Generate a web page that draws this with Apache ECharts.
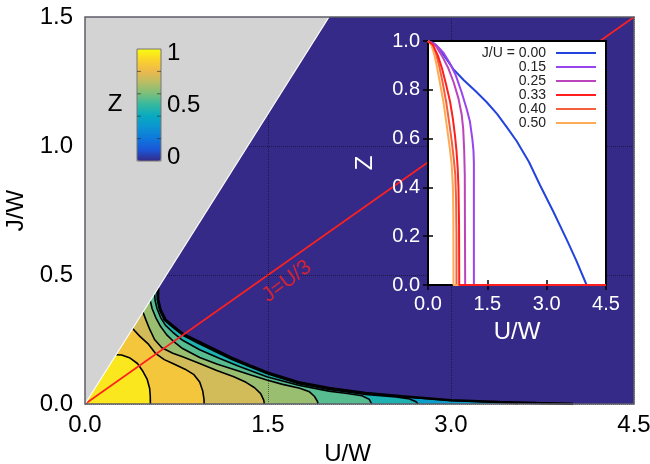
<!DOCTYPE html>
<html><head><meta charset="utf-8">
<script src="https://cdn.jsdelivr.net/npm/echarts@6/dist/echarts.min.js"></script>
<style>html,body{margin:0;padding:0;background:#fff}#c{width:650px;height:464px}</style>
</head><body><div id="c"></div>
<script>
// ---------------- main map (U/W, J/W) ----------------
const xTicks = [0, 1.5, 3.0, 4.5];
const yTicks = [0, 0.5, 1.0, 1.5];
const greyRegion = [[0,0],[2.0,1.5],[0,1.5]];
const greyEdge = [[0,0],[2.0,1.5]];
const ratioLine = [[0,0],[4.5,1.5]];
const ratioLabel = [[1.655,0.475]];
// contour lines of Z, outer -> inner
const boundary = [[0.60,0.45],[0.60,0.405],[0.62,0.365],[0.66,0.327],[0.73,0.30],[0.81,0.27],[0.92,0.245],[1.05,0.215],[1.2,0.18],[1.35,0.15],[1.5,0.122],[1.75,0.085],[2.0,0.062],[2.3,0.043],[2.6,0.03],[3.0,0.015],[3.4,0.008],[3.7,0.004],[3.98,0.001],[4.0,0]];
const c03 = [[0.597,0.448],[0.597,0.405],[0.616,0.365],[0.656,0.326],[0.727,0.299],[0.81,0.267],[0.92,0.241],[1.05,0.211],[1.2,0.176],[1.35,0.147],[1.5,0.119],[1.75,0.082],[2.0,0.059],[2.3,0.04],[2.6,0.028],[3.0,0.013],[3.3,0.008],[3.45,0.005],[3.53,0.002],[3.55,0]];
const c04 = [[0.59,0.4425],[0.592,0.405],[0.61,0.365],[0.65,0.325],[0.72,0.297],[0.81,0.264],[0.92,0.237],[1.05,0.207],[1.2,0.173],[1.35,0.144],[1.5,0.116],[1.75,0.079],[2.0,0.056],[2.3,0.037],[2.55,0.027],[2.65,0.021],[2.71,0.01],[2.73,0]];
const c05 = [[0.57,0.428],[0.575,0.40],[0.59,0.37],[0.62,0.335],[0.66,0.305],[0.72,0.278],[0.80,0.247],[0.94,0.21],[1.1,0.177],[1.25,0.148],[1.49,0.106],[1.75,0.073],[2.0,0.05],[2.15,0.041],[2.27,0.032],[2.33,0.018],[2.35,0]];
const c06 = [[0.535,0.40],[0.55,0.37],[0.58,0.335],[0.62,0.30],[0.67,0.268],[0.72,0.245],[0.80,0.215],[0.94,0.18],[1.08,0.155],[1.22,0.134],[1.36,0.112],[1.49,0.093],[1.62,0.076],[1.76,0.061],[1.84,0.047],[1.88,0.03],[1.905,0.01],[1.91,0]];
const c07 = [[0.475,0.356],[0.50,0.325],[0.53,0.29],[0.57,0.25],[0.63,0.218],[0.72,0.197],[0.80,0.183],[0.94,0.157],[1.08,0.13],[1.22,0.106],[1.32,0.084],[1.39,0.063],[1.44,0.04],[1.465,0.015],[1.47,0]];
const c08 = [[0.39,0.2925],[0.45,0.262],[0.52,0.232],[0.58,0.195],[0.65,0.172],[0.72,0.157],[0.82,0.135],[0.89,0.115],[0.94,0.085],[0.965,0.05],[0.975,0.02],[0.977,0]];
const c09 = [[0.255,0.191],[0.30,0.19],[0.37,0.178],[0.43,0.157],[0.47,0.13],[0.51,0.095],[0.53,0.06],[0.535,0.03],[0.536,0]];
const bandPolys = [boundary, c03, c04, c05, c06, c07, c08, c09];
const bandZ = [0.22, 0.35, 0.45, 0.55, 0.65, 0.75, 0.85, 0.95];
const colorbarLabels = ['0', '0.5', '1'];
const colorbarTicks = [0.2, 0.4, 0.6, 0.8];
// ---------------- inset Z(U) for fixed J/U ----------------
const insetNames = ['J/U = 0.00', '0.15', '0.25', '0.33', '0.40', '0.50'];
const insetColors = ['#2244dd', '#9944ee', '#bb44bb', '#ff1f1f', '#f5603c', '#ffaa55'];
const z000 = [[0,1],[0.15,0.99],[0.3,0.965],[0.45,0.93],[0.64,0.885],[0.9,0.84],[1.2,0.795],[1.48,0.75],[1.75,0.70],[2.0,0.645],[2.24,0.59],[2.55,0.505],[2.83,0.41],[3.17,0.30],[3.51,0.185],[3.75,0.1],[4.01,0],[4.5,0]];
const z015 = [[0,1],[0.2,0.985],[0.4,0.95],[0.55,0.91],[0.7,0.86],[0.85,0.79],[0.98,0.72],[1.06,0.67],[1.12,0.6],[1.15,0.55],[1.16,0.5],[1.16,0],[4.5,0]];
const z025 = [[0,1],[0.2,0.98],[0.35,0.94],[0.51,0.89],[0.65,0.83],[0.77,0.765],[0.85,0.70],[0.89,0.64],[0.915,0.55],[0.93,0.45],[0.935,0.2],[0.94,0],[4.5,0]];
const z033 = [[0,1],[0.12,0.985],[0.25,0.94],[0.35,0.89],[0.46,0.82],[0.56,0.75],[0.63,0.68],[0.68,0.615],[0.72,0.55],[0.75,0.48],[0.77,0.4],[0.785,0.25],[0.79,0],[4.5,0]];
const z040 = [[0,1],[0.1,0.985],[0.2,0.95],[0.28,0.9],[0.37,0.83],[0.46,0.75],[0.54,0.66],[0.6,0.59],[0.65,0.52],[0.69,0.45],[0.71,0.35],[0.72,0.2],[0.72,0],[4.5,0]];
const z050 = [[0,1],[0.08,0.985],[0.15,0.95],[0.22,0.9],[0.3,0.83],[0.39,0.75],[0.46,0.67],[0.51,0.61],[0.56,0.55],[0.6,0.49],[0.63,0.4],[0.64,0.3],[0.645,0],[4.5,0]];
const insetData = [z000, z015, z025, z033, z040, z050];

const parula = ['#352a87','#1b56d7','#0e77db','#0c93d2','#07aac1','#33b8a1','#7abf7c','#b8bd64','#ecb94d','#fad22b','#f9fb0e'];
const FONT = 'Liberation Sans, Arial, Helvetica, sans-serif';
const fmt1 = v => v.toFixed(1);

const chart = echarts.init(document.getElementById('c'), null, {renderer:'canvas'});

const series = [];
series.push({type:'custom', name:'grey', xAxisIndex:0, yAxisIndex:0, z:4, silent:true,
  data:[[0,0]],
  renderItem:(p, api) => ({type:'polygon', shape:{points: greyRegion.map(q => api.coord(q))}, style:{fill:'#d3d3d3'}})
});
series.push({type:'custom', name:'Z', xAxisIndex:0, yAxisIndex:0, z:2, silent:true,
  data: bandPolys.map((_, i) => [i, bandZ[i]]),
  renderItem:(p, api) => {
    const poly = bandPolys[p.dataIndex];
    const pts = [api.coord([0,0])].concat(poly.map(q => api.coord(q)));
    return {type:'polygon', shape:{points:pts}, style:{fill: api.visual('color')}};
  }
});
[c09, c08, c07, c06, c05, c04, c03, boundary].forEach((c, i) => {
  series.push({type:'line', name:'contour'+i, xAxisIndex:0, yAxisIndex:0, z:2, silent:true,
    data:c, symbol:'none', lineStyle:{color:'#000', width: i === 7 ? 2.4 : 1.6}, itemStyle:{color:'#000'}});
});
series.push({type:'line', name:'edge', xAxisIndex:0, yAxisIndex:0, z:4, silent:true,
  data:greyEdge, symbol:'none', lineStyle:{color:'#fff', width:1.2}});
series.push({type:'line', name:'ratio', xAxisIndex:0, yAxisIndex:0, z:2, silent:true,
  data:ratioLine, symbol:'none', lineStyle:{color:'#ff2020', width:1.6}});
series.push({type:'scatter', name:'ratioLabel', xAxisIndex:0, yAxisIndex:0, z:3, silent:true,
  data:ratioLabel, symbolSize:1, itemStyle:{color:'rgba(0,0,0,0)'},
  label:{show:true, position:'inside', formatter:'J=U/3', rotate:37, color:'#ff2020', fontSize:21, fontFamily:FONT}});
insetData.forEach((d, i) => {
  series.push({type:'line', name:insetNames[i], xAxisIndex:1, yAxisIndex:1, z: i===3 ? 13 : 12,
    data:d, symbol:'none', color:insetColors[i],
    lineStyle:{color:insetColors[i], width:2}, itemStyle:{color:insetColors[i]}});
});

const option = {
  animation:false,
  textStyle:{fontFamily:FONT},
  grid:[
    {left:85, top:17, right:16, bottom:60, show:true, backgroundColor:'#352a87', borderWidth:0, z:0, outerBoundsMode:'none', containLabel:false},
    {left:428, top:41, width:178, height:244, show:true, backgroundColor:'#fff', borderColor:'#000', borderWidth:2, z:10, outerBoundsMode:'none', containLabel:false},
    {left:85, top:17, right:16, bottom:60, show:true, backgroundColor:'rgba(0,0,0,0)', borderColor:'#5e5e6a', borderWidth:1.5, z:5, outerBoundsMode:'none', containLabel:false}
  ],
  xAxis:[
    {gridIndex:0, type:'value', min:xTicks[0], max:xTicks[3], interval:1.5, z:3,
     name:'U/W', nameLocation:'middle', nameGap:27, nameTextStyle:{fontSize:24, color:'#000', padding:[0,24,0,0]},
     axisLine:{show:false}, axisTick:{show:false},
     axisLabel:{fontSize:24, color:'#000', margin:9, formatter:fmt1},
     splitLine:{show:true, lineStyle:{type:'dotted', color:'rgba(0,0,0,0.45)', width:1}}},
    {gridIndex:1, type:'value', min:0, max:4.5, interval:1.5, z:11,
     name:'U/W', nameLocation:'middle', nameGap:35, nameTextStyle:{fontSize:24, color:'#fff'},
     axisLine:{show:false}, axisTick:{show:true, inside:true, length:5, lineStyle:{color:'#000', width:1.5}},
     axisLabel:{fontSize:20, color:'#fff', margin:9, formatter:fmt1}, splitLine:{show:false}},
    {gridIndex:1, type:'value', position:'top', min:0, max:4.5, interval:1.5, z:11,
     axisLine:{show:false}, axisTick:{show:true, inside:true, length:5, lineStyle:{color:'#000', width:1.5}},
     axisLabel:{show:false}, splitLine:{show:false}},
    {gridIndex:2, type:'value', min:0, max:1, show:false}
  ],
  yAxis:[
    {gridIndex:0, type:'value', min:yTicks[0], max:yTicks[3], interval:0.5, z:3,
     name:'J/W', nameLocation:'middle', nameGap:51, nameTextStyle:{fontSize:24, color:'#000'},
     axisLine:{show:false}, axisTick:{show:false},
     axisLabel:{fontSize:24, color:'#000', margin:12, formatter:fmt1},
     splitLine:{show:true, lineStyle:{type:'dotted', color:'rgba(0,0,0,0.45)', width:1}}},
    {gridIndex:1, type:'value', min:0, max:1, interval:0.2, z:11,
     name:'Z', nameLocation:'middle', nameGap:51, nameTextStyle:{fontSize:24, color:'#fff'},
     axisLine:{show:false}, axisTick:{show:true, inside:true, length:5, lineStyle:{color:'#000', width:1.5}},
     axisLabel:{fontSize:20, color:'#fff', margin:8, formatter:fmt1}, splitLine:{show:false}},
    {gridIndex:1, type:'value', position:'right', min:0, max:1, interval:0.2, z:11,
     axisLine:{show:false}, axisTick:{show:true, inside:true, length:5, lineStyle:{color:'#000', width:1.5}},
     axisLabel:{show:false}, splitLine:{show:false}},
    {gridIndex:2, type:'value', min:0, max:1, show:false}
  ],
  visualMap:{type:'continuous', min:0, max:1, seriesIndex:1, dimension:1,
    inRange:{color:parula}, orient:'vertical', left:137, top:49, itemWidth:24, itemHeight:112,
    padding:0, calculable:false, text:null, showLabel:false, z:6, textStyle:{color:'rgba(0,0,0,0)'}},
  legend:{orient:'vertical', right:53, top:46, align:'right', padding:0, itemGap:0,
    itemWidth:40, itemHeight:14, z:20, data:insetNames, selectedMode:false,
    itemStyle:{opacity:0, borderWidth:0},
    formatter: n => '{a|' + n + '}',
    textStyle:{fontSize:14, color:'#222', rich:{a:{width:66, align:'right', fontSize:14, lineHeight:14, color:'#222', padding:[0,5,0,0]}}}},
  series: series
};
chart.setOption(option);

// colorbar labels and ticks (legend for Z)
const cbLeft = 137, cbTop = 49, cbW = 24, cbH = 112;
const yOf = v => cbTop + (1 - v) * cbH;
const gElems = [];
gElems.push({type:'rect', shape:{x:cbLeft, y:cbTop, width:cbW, height:cbH}, style:{fill:null, stroke:'#777', lineWidth:1}, z:7, silent:true});
colorbarTicks.forEach(v => {
  gElems.push({type:'line', shape:{x1:cbLeft, y1:yOf(v), x2:cbLeft+4, y2:yOf(v)}, style:{stroke:'rgba(40,40,40,0.6)', lineWidth:1}, z:7, silent:true});
  gElems.push({type:'line', shape:{x1:cbLeft+cbW-4, y1:yOf(v), x2:cbLeft+cbW, y2:yOf(v)}, style:{stroke:'rgba(40,40,40,0.6)', lineWidth:1}, z:7, silent:true});
});
const labelVals = [0.03, 0.5, 0.96];
colorbarLabels.forEach((t, i) => {
  gElems.push({type:'text', x:cbLeft+cbW+6, y:yOf(labelVals[i]), style:{text:t, fontSize:24, fontFamily:FONT, fill:'#000', textAlign:'left', textVerticalAlign:'middle'}, z:7, silent:true});
});
gElems.push({type:'text', x:115, y:104, style:{text:'Z', fontSize:24, fontFamily:FONT, fill:'#000', textAlign:'center', textVerticalAlign:'middle'}, z:7, silent:true});
chart.setOption({graphic:{elements:gElems}});
</script>
</body></html>
